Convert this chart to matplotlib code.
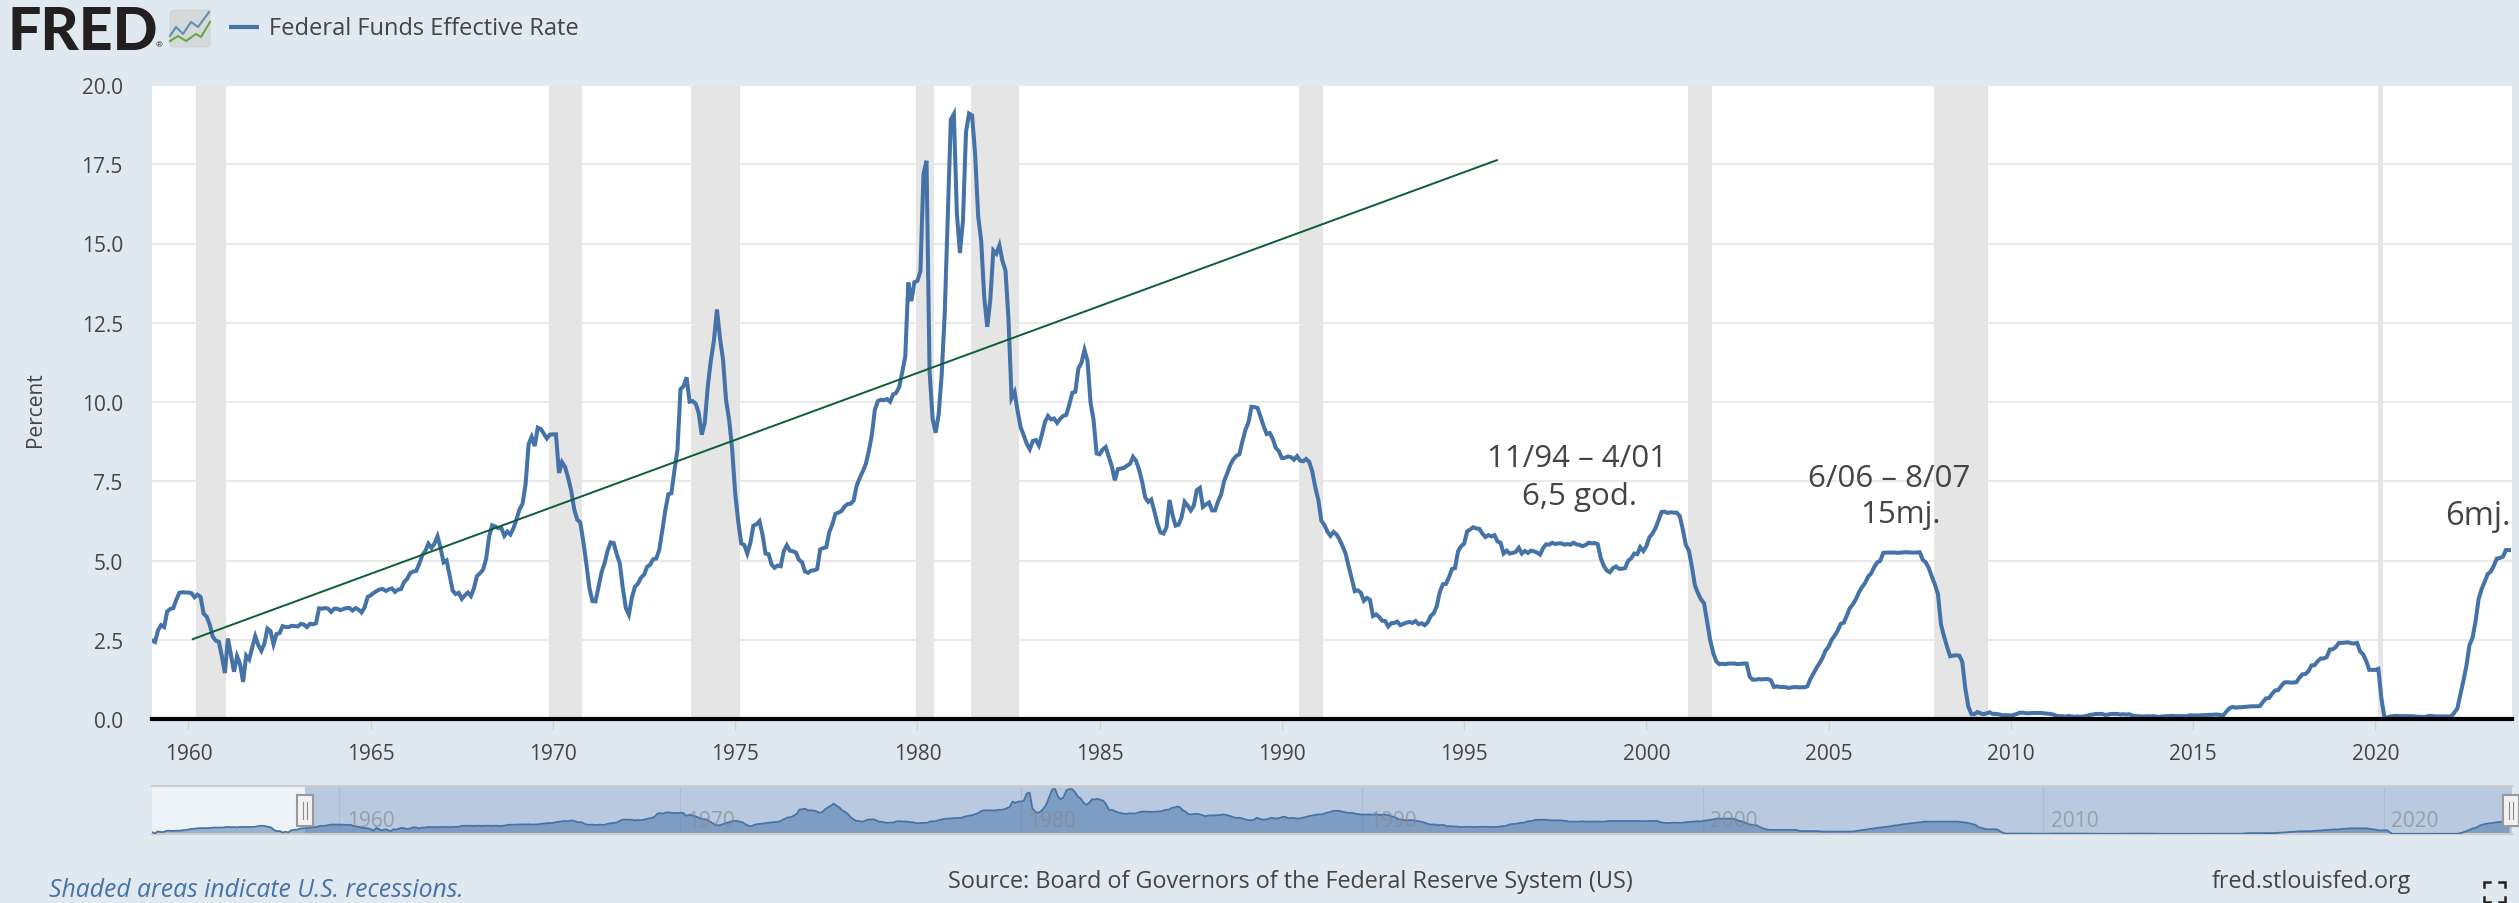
import matplotlib
matplotlib.use('Agg')
import matplotlib.pyplot as plt
from matplotlib.patches import FancyBboxPatch, Rectangle
import pandas as pd

# monthly Federal Funds Effective Rate, Jul 1954 - Sep 2023
rate_1950s = [0.80,0.22,1.07,0.85,0.83,1.28,
    1.39,1.29,1.35,1.43,1.43,1.64,1.68,1.96,2.18,2.24,2.35,2.48,
    2.45,2.50,2.50,2.62,2.75,2.71,2.75,2.73,2.95,2.96,2.88,2.94,
    2.84,3.00,2.96,3.00,3.00,3.00,2.99,3.24,3.47,3.50,3.28,2.98,
    2.72,1.67,1.20,1.26,0.63,0.93,0.68,1.53,1.76,1.80,2.27,2.42,
    2.48,2.43,2.80,2.96,2.90,3.39,3.47,3.50,3.76,3.98,4.00,3.99]
rate_1960s = [3.99,3.97,3.84,3.92,3.85,3.32,3.23,2.98,2.60,2.47,2.44,1.98,
    1.45,2.54,2.02,1.49,1.98,1.73,1.17,2.00,1.88,2.26,2.61,2.33,
    2.15,2.37,2.85,2.78,2.36,2.68,2.71,2.93,2.90,2.90,2.94,2.93,
    2.92,3.00,2.98,2.90,3.00,2.99,3.02,3.49,3.48,3.50,3.48,3.38,
    3.48,3.48,3.43,3.47,3.50,3.50,3.42,3.50,3.45,3.36,3.52,3.85,
    3.90,3.98,4.04,4.09,4.10,4.04,4.09,4.12,4.01,4.08,4.10,4.32,
    4.42,4.60,4.65,4.67,4.90,5.17,5.30,5.53,5.40,5.53,5.76,5.40,
    4.94,5.00,4.53,4.05,3.94,3.98,3.79,3.90,3.99,3.88,4.13,4.51,
    4.60,4.71,5.05,5.76,6.11,6.07,6.02,6.03,5.78,5.91,5.82,6.02,
    6.30,6.61,6.79,7.41,8.67,8.90,8.61,9.19,9.15,9.00,8.85,8.97]
rate_1970s = [8.98,8.98,7.76,8.10,7.95,7.61,7.21,6.62,6.29,6.20,5.60,4.90,
    4.14,3.72,3.71,4.16,4.63,4.91,5.31,5.57,5.55,5.20,4.91,4.14,
    3.50,3.29,3.83,4.17,4.27,4.46,4.55,4.80,4.87,5.04,5.06,5.33,
    5.94,6.58,7.09,7.12,7.84,8.49,10.40,10.50,10.78,10.01,10.03,9.95,
    9.65,8.97,9.35,10.51,11.31,11.93,12.92,12.01,11.34,10.06,9.45,8.53,
    7.13,6.24,5.54,5.49,5.22,5.55,6.10,6.14,6.24,5.82,5.22,5.20,
    4.87,4.77,4.84,4.82,5.29,5.48,5.31,5.29,5.25,5.02,4.95,4.65,
    4.61,4.68,4.69,4.73,5.35,5.39,5.42,5.90,6.14,6.47,6.51,6.56,
    6.70,6.78,6.79,6.89,7.36,7.60,7.81,8.04,8.45,8.96,9.76,10.03,
    10.07,10.06,10.09,10.01,10.24,10.29,10.47,10.94,11.43,13.77,13.18,13.78]
rate_1980s = [13.82,14.13,17.19,17.61,10.98,9.47,9.03,9.61,10.87,12.81,15.85,18.90,
    19.08,15.93,14.70,15.72,18.52,19.10,19.04,17.82,15.87,15.08,13.31,12.37,
    13.22,14.78,14.68,14.94,14.45,14.15,12.59,10.12,10.31,9.71,9.20,8.95,
    8.68,8.51,8.77,8.80,8.63,8.98,9.37,9.56,9.45,9.48,9.34,9.47,
    9.56,9.59,9.91,10.29,10.32,11.06,11.23,11.64,11.30,9.99,9.43,8.38,
    8.35,8.50,8.58,8.27,7.97,7.53,7.88,7.90,7.92,7.99,8.05,8.27,
    8.14,7.86,7.48,6.99,6.85,6.92,6.56,6.17,5.89,5.85,6.04,6.91,
    6.43,6.10,6.13,6.37,6.85,6.73,6.58,6.73,7.22,7.29,6.69,6.77,
    6.83,6.58,6.58,6.87,7.09,7.51,7.75,8.01,8.19,8.30,8.35,8.76,
    9.12,9.36,9.85,9.84,9.81,9.53,9.24,8.99,9.02,8.84,8.55,8.45]
rate_1990s = [8.23,8.24,8.28,8.26,8.18,8.29,8.15,8.13,8.20,8.11,7.81,7.31,
    6.91,6.25,6.12,5.91,5.78,5.90,5.82,5.66,5.45,5.21,4.81,4.43,
    4.03,4.06,3.98,3.73,3.82,3.76,3.25,3.30,3.22,3.10,3.09,2.92,
    3.02,3.03,3.07,2.96,3.00,3.04,3.06,3.03,3.09,2.99,3.02,2.96,
    3.05,3.25,3.34,3.56,4.01,4.25,4.26,4.47,4.73,4.76,5.29,5.45,
    5.53,5.92,5.98,6.05,6.01,6.00,5.85,5.74,5.80,5.76,5.80,5.60,
    5.56,5.22,5.31,5.22,5.24,5.27,5.40,5.22,5.30,5.24,5.31,5.29,
    5.25,5.19,5.39,5.51,5.50,5.56,5.52,5.54,5.54,5.50,5.52,5.50,
    5.56,5.51,5.49,5.45,5.49,5.56,5.54,5.55,5.51,5.07,4.83,4.68,
    4.63,4.76,4.81,4.74,4.74,4.76,4.99,5.07,5.22,5.20,5.42,5.30]
rate_2000s = [5.45,5.73,5.85,6.02,6.27,6.53,6.54,6.50,6.52,6.51,6.51,6.40,
    5.98,5.49,5.31,4.80,4.21,3.97,3.77,3.65,3.07,2.49,2.09,1.82,
    1.73,1.74,1.73,1.75,1.75,1.75,1.73,1.74,1.75,1.75,1.34,1.24,
    1.24,1.26,1.25,1.26,1.26,1.22,1.01,1.03,1.01,1.01,1.00,0.98,
    1.00,1.01,1.00,1.00,1.00,1.03,1.26,1.43,1.61,1.76,1.93,2.16,
    2.28,2.50,2.63,2.79,3.00,3.04,3.26,3.50,3.62,3.78,4.00,4.16,
    4.29,4.49,4.59,4.79,4.94,4.99,5.24,5.25,5.25,5.25,5.25,5.24,
    5.25,5.26,5.26,5.25,5.25,5.25,5.26,5.02,4.94,4.76,4.49,4.24,
    3.94,2.98,2.61,2.28,1.98,2.00,2.01,2.00,1.81,0.97,0.39,0.16,
    0.15,0.22,0.18,0.15,0.18,0.21,0.16,0.16,0.15,0.12,0.12,0.12]
rate_2010s = [0.11,0.13,0.16,0.20,0.20,0.18,0.18,0.19,0.19,0.19,0.19,0.18,
    0.17,0.16,0.14,0.10,0.09,0.09,0.07,0.10,0.08,0.07,0.08,0.07,
    0.08,0.10,0.13,0.14,0.16,0.16,0.16,0.13,0.14,0.16,0.16,0.16,
    0.14,0.15,0.14,0.15,0.11,0.09,0.09,0.08,0.08,0.09,0.08,0.09,
    0.07,0.07,0.08,0.09,0.09,0.10,0.09,0.09,0.09,0.09,0.09,0.12,
    0.11,0.11,0.11,0.12,0.12,0.13,0.13,0.14,0.14,0.12,0.12,0.24,
    0.34,0.38,0.36,0.37,0.37,0.38,0.39,0.40,0.40,0.40,0.41,0.54,
    0.65,0.66,0.79,0.90,0.91,1.04,1.15,1.16,1.15,1.15,1.16,1.30,
    1.41,1.42,1.51,1.69,1.70,1.82,1.91,1.91,1.95,2.19,2.20,2.27,
    2.40,2.40,2.41,2.42,2.39,2.38,2.40,2.13,2.04,1.83,1.55,1.55]
rate_2020s = [1.55,1.58,0.65,0.05,0.05,0.08,0.09,0.10,0.09,0.09,0.09,0.09,
    0.09,0.08,0.07,0.07,0.06,0.08,0.10,0.09,0.08,0.08,0.08,0.08,
    0.08,0.08,0.20,0.33,0.77,1.21,1.68,2.33,2.56,3.08,3.78,4.10,
    4.33,4.57,4.65,4.83,5.06,5.08,5.12,5.33,5.33]

recession_start = [1960.21, 1969.88, 1973.79, 1979.96, 1981.46, 1990.46, 2001.13, 2007.88, 2020.06]
recession_end = [1961.04, 1970.79, 1975.13, 1980.46, 1982.79, 1991.13, 2001.79, 2009.38, 2020.21]

trend_years = [1960.12, 1995.9]
trend_values = [2.52, 17.63]

y_ticks = [0, 2.5, 5, 7.5, 10, 12.5, 15, 17.5, 20]
x_ticks = list(range(1960, 2021, 5))
nav_ticks = list(range(1960, 2021, 10))

W, H = 2519, 904
BG = '#e1e9f0'
BLUE = '#4572a7'
TEXT = '#444444'
plt.rcParams['font.family'] = ['Open Sans', 'DejaVu Sans']


def axes_px(fig, left, top, right, bottom):
    return fig.add_axes([left / W, 1 - bottom / H, (right - left) / W, (bottom - top) / H])


def main():
    rate = rate_1950s + rate_1960s + rate_1970s + rate_1980s + rate_1990s + rate_2000s + rate_2010s + rate_2020s
    dates = pd.date_range('1954-07-01', periods=len(rate), freq='MS')
    years = dates.year + (dates.month - 1) / 12

    fig = plt.figure(figsize=(W / 100, H / 100), dpi=100, facecolor=BG)

    # main chart
    ax = axes_px(fig, 152, 86, 2512, 720)
    ax.set_xlim(1959.0, 2023.75)
    ax.set_ylim(0, 20)
    ax.set_facecolor('white')
    for s in ax.spines.values():
        s.set_visible(False)
    ax.set_yticks(y_ticks)
    ax.set_yticklabels(['%.1f' % v for v in y_ticks])
    ax.set_xticks(x_ticks)
    ax.tick_params(axis='y', length=0, pad=21, labelsize=15, labelcolor=TEXT)
    ax.tick_params(axis='x', length=8, width=1, color='#c5d3e6', pad=9, labelsize=15, labelcolor=TEXT)
    ax.grid(axis='y', color='#e9e9e9', lw=1.5, zorder=1)
    ax.set_axisbelow(True)
    for a, b in zip(recession_start, recession_end):
        ax.axvspan(a, b, color='#e5e5e5', lw=0, zorder=2)
    ax.plot(years, rate, color=BLUE, lw=2.9, zorder=3, solid_joinstyle='miter')
    ax.plot(trend_years, trend_values, color='#0b5d33', lw=1.4, zorder=4)
    ax.axhline(0, color='black', lw=3, zorder=5, clip_on=False)
    ax.set_ylabel('Percent', fontsize=15, color=TEXT)
    ax.yaxis.set_label_coords(-106 / 2360, 0.49)

    # navigator
    nav = axes_px(fig, 152, 787, 2512, 835)
    nav.set_xlim(1954.5, 2023.75)
    nav.set_ylim(0, 20.4)
    nav.set_facecolor('#eef3f7')
    nav.set_xticks([])
    nav.set_yticks([])
    for name, s in nav.spines.items():
        s.set_visible(name in ('top', 'bottom'))
        s.set_color('#cccccc')
        s.set_linewidth(1.5)
    nav.axvspan(1959.0, 2023.75, color='#b9c9e0', lw=0, zorder=1)
    for t in nav_ticks:
        nav.axvline(t, color='#a9bbd6', lw=0.8, zorder=1.5)
    nav.fill_between(years, rate, 0, color=BLUE, alpha=0.5, lw=0, zorder=2)
    nav.plot(years, rate, color=BLUE, lw=1.3, zorder=3)
    for t in nav_ticks:
        nav.text(t + 0.91, 5.8, str(t), ha='center', va='center', fontsize=15, color='#888888', alpha=0.65, zorder=4)

    # everything else sits on a pixel overlay
    top = axes_px(fig, 0, 0, W, H)
    top.set_xlim(0, W)
    top.set_ylim(H, 0)
    top.axis('off')
    top.patch.set_alpha(0)

    # logo
    top.text(7, 33, 'FRED', fontsize=42.5, fontweight=900, color='#231f20', ha='left', va='center', family='Lato')
    top.text(159, 46, '®', fontsize=6, color='#231f20', ha='center', va='center')
    top.add_patch(FancyBboxPatch((171, 12), 38, 35, boxstyle='round,pad=1,rounding_size=3', fc='#d6d9d9', ec='#c8cbcb', lw=0.5))
    top.plot([170, 176, 183, 191, 198, 209], [37, 28, 35, 23, 28, 13], color='#5b8fb5', lw=1.5)
    top.plot([170, 178, 186, 196, 201, 210], [42, 37, 42, 35, 38, 23], color='#6aa548', lw=1.5)

    # legend
    top.plot([229, 259], [28, 28], color=BLUE, lw=3, solid_capstyle='butt')
    top.text(269, 29, 'Federal Funds Effective Rate', fontsize=17, color=TEXT, ha='left', va='center')

    # annotations
    top.text(1577, 459, '11/94 – 4/01', fontsize=22.5, color=TEXT, ha='center', va='center')
    top.text(1580, 497, '6,5 god.', fontsize=22.5, color=TEXT, ha='center', va='center')
    top.text(1889, 479, '6/06 – 8/07', fontsize=22.5, color=TEXT, ha='center', va='center')
    top.text(1900, 515, '15mj.', fontsize=22.5, color=TEXT, ha='center', va='center')
    top.text(2478, 517, '6mj.', fontsize=23.5, color=TEXT, ha='center', va='center')

    # navigator handles
    for hx in (305, 2511):
        top.add_patch(Rectangle((hx - 8, 796), 16, 31, fc='#f2f2f2', ec='#999999', lw=1.5, zorder=6))
        top.plot([hx - 2, hx - 2], [803, 820], color='#888888', lw=0.8, zorder=7)
        top.plot([hx + 2, hx + 2], [803, 820], color='#888888', lw=0.8, zorder=7)

    # footer
    top.text(49, 891, 'Shaded areas indicate U.S. recessions.', fontsize=17.8, style='italic', color=BLUE, ha='left', va='center')
    top.text(948, 882, 'Source: Board of Governors of the Federal Reserve System (US)', fontsize=16.8, color=TEXT, ha='left', va='center')
    top.text(2212, 882, 'fred.stlouisfed.org', fontsize=16.8, color=TEXT, ha='left', va='center')

    # full screen icon
    for cx, dx, cy, dy in [(2484, 1, 883, 1), (2505, -1, 883, 1), (2484, 1, 903, -1), (2505, -1, 903, -1)]:
        top.plot([cx + 6 * dx, cx, cx], [cy, cy, cy + 5 * dy], color='#222222', lw=1.8, solid_joinstyle='miter', clip_on=True)

    fig.savefig('out.png', dpi=100, facecolor=BG)


if __name__ == '__main__':
    main()
